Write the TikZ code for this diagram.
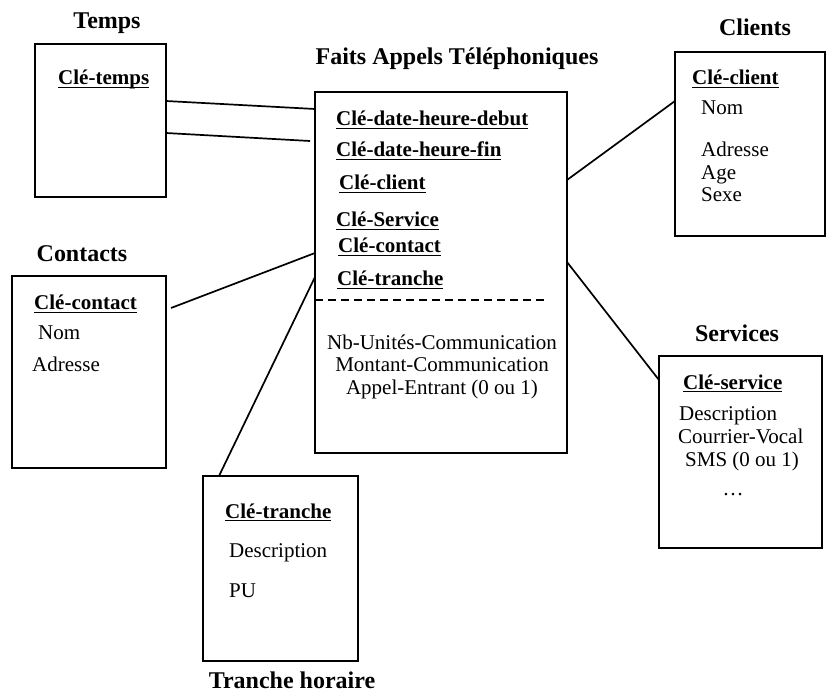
\documentclass[tikz,border=0pt]{standalone}
\usepackage{fontspec}
\setmainfont{Liberation Serif}
\newcommand{\ukey}[1]{\setbox0\hbox{#1}\rlap{\rule[-3.2pt]{\wd0}{1.6pt}}\box0}
\begin{document}
\begin{tikzpicture}[x=1pt,y=-1pt,
  box/.style={draw,line width=1.7pt,inner sep=0pt,outer sep=0pt,anchor=north west},
  txt/.style={inner sep=0pt,anchor=base west,font=\fontsize{21}{25}\selectfont},
  ttl/.style={inner sep=0pt,anchor=base,font=\fontsize{24}{28}\selectfont\bfseries},
  key/.style={txt,font=\fontsize{21}{25}\selectfont\bfseries},
  conn/.style={line width=1.7pt}]
\useasboundingbox (0,0) rectangle (827,692);
% boxes
\node[box,minimum width=131pt,minimum height=153pt] (temps) at (35,44) {};
\node[box,minimum width=252pt,minimum height=361pt] (fact) at (315,92) {};
\node[box,minimum width=150pt,minimum height=184pt] (clients) at (675,52) {};
\node[box,minimum width=154pt,minimum height=192pt] (contacts) at (12,276) {};
\node[box,minimum width=163pt,minimum height=192pt] (services) at (659,356) {};
\node[box,minimum width=155pt,minimum height=185pt] (tranche) at (203,476) {};
% titles
\node[ttl] (tTemps) at (107,29) {Temps};
\node[ttl] (tFaits) at (457,65) {Faits Appels Téléphoniques};
\node[ttl] (tClients) at (755,36) {Clients};
\node[ttl] (tContacts) at (82,262) {Contacts};
\node[ttl] (tServices) at (737,342) {Services};
\node[ttl] (tTranche) at (292,688) {Tranche horaire};
% Temps
\node[key] (k1) at (58,85) {\ukey{Clé-temps}};
% Faits
\node[key] (f1) at (336,126) {\ukey{Clé-date-heure-debut}};
\node[key] (f2) at (336,157) {\ukey{Clé-date-heure-fin}};
\node[key] (f3) at (339,190) {\ukey{Clé-client}};
\node[key] (f4) at (336,227) {\ukey{Clé-Service}};
\node[key] (f5) at (338,253) {\ukey{Clé-contact}};
\node[key] (f6) at (337,286) {\ukey{Clé-tranche}};
\node[txt,anchor=base] (m1) at (442,349) {Nb-Unités-Communication};
\node[txt,anchor=base] (m2) at (442,372) {Montant-Communication};
\node[txt,anchor=base] (m3) at (442,395) {Appel-Entrant (0 ou 1)};
\draw[line width=1.4pt,dash pattern=on 8pt off 5pt] (fact.west |- 0,300) -- (547,300);
% Clients
\node[key] (c1) at (692,85) {\ukey{Clé-client}};
\node[txt] (c2) at (701,115) {Nom};
\node[txt] (c3) at (701,157) {Adresse};
\node[txt] (c4) at (701,180) {Age};
\node[txt] (c5) at (701,202) {Sexe};
% Contacts
\node[key] (n1) at (34,310) {\ukey{Clé-contact}};
\node[txt] (n2) at (38,340) {Nom};
\node[txt] (n3) at (32,372) {Adresse};
% Services
\node[key] (s1) at (683,389) {\ukey{Clé-service}};
\node[txt] (s2) at (679,420) {Description};
\node[txt] (s3) at (678,443) {Courrier-Vocal};
\node[txt] (s4) at (685,466) {SMS (0 ou 1)};
\node[txt,anchor=base] (s5) at (733,495) {…};
% Tranche
\node[key] (r1) at (225,518) {\ukey{Clé-tranche}};
\node[txt] (r2) at (229,557) {Description};
\node[txt] (r3) at (229,597) {PU};
% connectors
\coordinate (tEnd) at (310,141);
\coordinate (kStart) at (171,308);
\draw[conn] (temps.east |- 0,101) -- (fact.west |- 0,109);
\draw[conn] (temps.east |- 0,133) -- (tEnd);
\draw[conn] (fact.east |- 0,180) -- (clients.west |- 0,101);
\draw[conn] (kStart) -- (fact.west |- 0,253);
\draw[conn] (fact.west |- 0,277) -- (tranche.north -| 219,0);
\draw[conn] (fact.east |- 0,262) -- (services.west |- 0,380);
\end{tikzpicture}
\end{document}
